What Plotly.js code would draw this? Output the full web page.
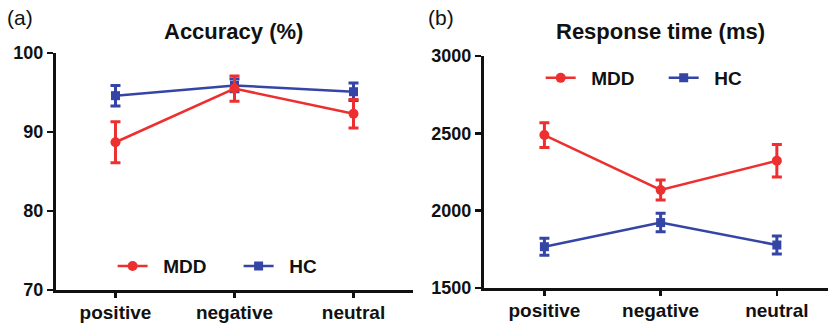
<!DOCTYPE html>
<html>
<head>
<meta charset="utf-8">
<script src="https://cdn.plot.ly/plotly-3.0.1.min.js"></script>
<style>html,body{margin:0;padding:0;background:#fff;}#chart{width:828px;height:323px;}</style>
</head>
<body>
<div id="chart"></div>
<script>
// ---- Data ----
const categories = ["positive", "negative", "neutral"];
// Panel (a): Accuracy (%)
const accMDD = [88.7, 95.5, 92.3];
const accMDDerr = [2.6, 1.6, 1.8];
const accHC = [94.6, 95.9, 95.1];
const accHCerr = [1.3, 0.8, 1.1];
// Panel (b): Response time (ms)
const rtMDD = [2489, 2134, 2323];
const rtMDDerr = [80, 65, 105];
const rtHC = [1767, 1923, 1778];
const rtHCerr = [55, 60, 58];
const accTicks = [70, 80, 90, 100];
const rtTicks = [1500, 2000, 2500, 3000];

const RED = "#ED2F2F";
const BLUE = "#3545A6";
const FONT = "Liberation Sans, Arial, Helvetica, sans-serif";
const PAD = "\u00a0\u00a0";

function series(x, y, err, name, color, symbol, size, xa, ya, legend) {
  return {
    type: "scatter", mode: "lines+markers", x: x, y: y, name: PAD + name,
    xaxis: xa, yaxis: ya, legend: legend,
    line: {color: color, width: 2.5},
    marker: {color: color, symbol: symbol, size: size},
    error_y: {type: "data", array: err, visible: true, color: color, thickness: 3, width: 5}
  };
}

const data = [
  series(categories, accHC, accHCerr, "HC", BLUE, "square", 9, "x", "y", "legend"),
  series(categories, accMDD, accMDDerr, "MDD", RED, "circle", 10, "x", "y", "legend"),
  series(categories, rtHC, rtHCerr, "HC", BLUE, "square", 9, "x2", "y2", "legend2"),
  series(categories, rtMDD, rtMDDerr, "MDD", RED, "circle", 10, "x2", "y2", "legend2")
];

function xax(domain, range, anchor) {
  return {domain: domain, range: range, anchor: anchor, type: "category",
    showline: true, linecolor: "#111", linewidth: 3, ticks: "outside", ticklen: 5, tickwidth: 2.5,
    tickcolor: "#111", showgrid: false, zeroline: false, ticklabelstandoff: -2,
    tickfont: {family: FONT, size: 19, color: "#111", weight: "bold"}, fixedrange: true};
}
function yax(domain, range, tickvals, anchor) {
  return {domain: domain, range: range, anchor: anchor, tickvals: tickvals,
    showline: true, linecolor: "#111", linewidth: 3, ticks: "outside", ticklen: 6, tickwidth: 2.5,
    tickcolor: "#111", showgrid: false, zeroline: false,
    tickfont: {family: FONT, size: 18, color: "#111", weight: "bold"}, fixedrange: true};
}

const legendFont = {family: FONT, size: 19, color: "#111", weight: "bold"};
const layout = {
  width: 828, height: 323,
  margin: {l: 0, r: 0, t: 0, b: 0},
  paper_bgcolor: "#fff", plot_bgcolor: "#fff",
  showlegend: true,
  xaxis: xax([0.0676, 0.4988], [-0.5, 2.5], "y"),
  yaxis: yax([0.1022, 0.8359], [70, 100], accTicks, "x"),
  xaxis2: xax([0.5845, 1.0], [-0.52, 2.44], "y2"),
  yaxis2: yax([0.1084, 0.8266], [1500, 3000], rtTicks, "x2"),
  legend: {orientation: "h", x: 0.136, xanchor: "left", y: 0.176, yanchor: "middle",
    font: legendFont, traceorder: "reversed", itemwidth: 30, entrywidth: 81, bgcolor: "rgba(0,0,0,0)"},
  legend2: {orientation: "h", x: 0.653, xanchor: "left", y: 0.7585, yanchor: "middle",
    font: legendFont, traceorder: "reversed", itemwidth: 30, entrywidth: 78, bgcolor: "rgba(0,0,0,0)"},
  annotations: [
    {text: "(a)", x: 5 / 828, y: 1 - 18 / 323, xref: "paper", yref: "paper", xanchor: "left", yanchor: "middle",
      showarrow: false, font: {family: FONT, size: 21, color: "#111"}},
    {text: "(b)", x: 426 / 828, y: 1 - 18 / 323, xref: "paper", yref: "paper", xanchor: "left", yanchor: "middle",
      showarrow: false, font: {family: FONT, size: 21, color: "#111"}},
    {text: "Accuracy (%)", x: 234 / 828, y: 1 - 31 / 323, xref: "paper", yref: "paper", xanchor: "center", yanchor: "middle",
      showarrow: false, font: {family: FONT, size: 22, color: "#111", weight: "bold"}},
    {text: "Response time (ms)", x: 660 / 828, y: 1 - 31 / 323, xref: "paper", yref: "paper", xanchor: "center", yanchor: "middle",
      showarrow: false, font: {family: FONT, size: 22, color: "#111", weight: "bold"}}
  ]
};

Plotly.newPlot("chart", data, layout, {staticPlot: true, displayModeBar: false});
</script>
</body>
</html>
